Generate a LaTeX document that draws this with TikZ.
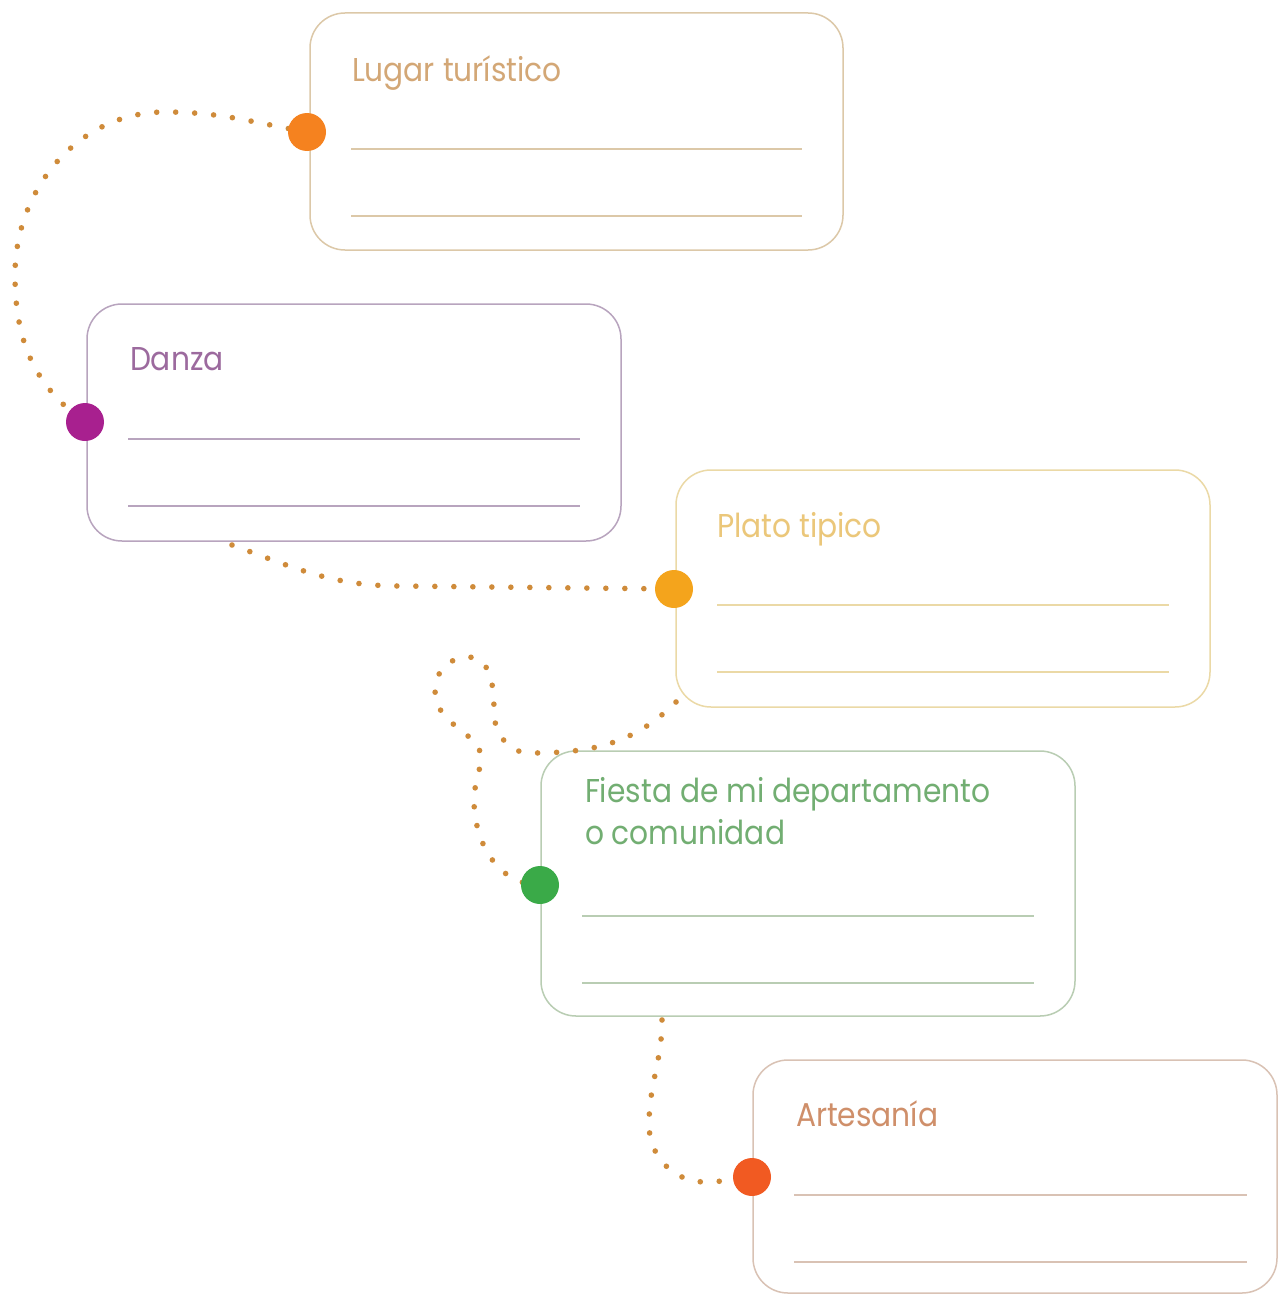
\documentclass[tikz,border=0pt]{standalone}
\usepackage{fontspec}
\setmainfont{Poppins}[FakeStretch=0.9]
\usetikzlibrary{calc}
\definecolor{dotcol}{HTML}{CF8B3A}
\definecolor{bdA}{HTML}{DCC8A8}\definecolor{txA}{HTML}{D3A776}\definecolor{dtA}{HTML}{F5821F}
\definecolor{bdB}{HTML}{B8A4BE}\definecolor{txB}{HTML}{9C6A9E}\definecolor{dtB}{HTML}{A8208F}
\definecolor{bdC}{HTML}{EBD9A6}\definecolor{txC}{HTML}{EBC77A}\definecolor{dtC}{HTML}{F4A41C}
\definecolor{bdD}{HTML}{B9CDB3}\definecolor{txD}{HTML}{72AE72}\definecolor{dtD}{HTML}{3AAA48}
\definecolor{bdE}{HTML}{D9C2B4}\definecolor{txE}{HTML}{CF8F6A}\definecolor{dtE}{HTML}{F15A22}
\tikzset{
  card/.style={draw=#1, line width=0.75pt, rounded corners=17.5pt, inner sep=0pt, outer sep=0pt, fill=white},
  wline/.style={draw=#1, line width=0.8pt},
  ttl/.style={text=#1, font=\fontsize{16.5pt}{21pt}\selectfont, inner sep=0pt, outer sep=0pt},
  pin/.style={circle, fill=#1, minimum size=19pt, inner sep=0pt, outer sep=0pt},
  dotpath/.style={draw=dotcol, line width=2.8pt, line cap=round, dash pattern=on 0pt off 9.5pt}
}
\begin{document}
\begin{tikzpicture}[x=0.5pt,y=0.5pt]
\useasboundingbox (0,0) rectangle (1280,-1295);
\fill[white] (0,0) rectangle (1280,-1295);
% cards
\node[card=bdA, minimum width=266.5pt, minimum height=118.5pt] (b1) at (576.5,-131.5) {};
\node[card=bdB, minimum width=267pt, minimum height=118.5pt] (b2) at (354,-422.5) {};
\node[card=bdC, minimum width=267pt, minimum height=118.5pt] (b3) at (943,-588.5) {};
\node[card=bdD, minimum width=267pt, minimum height=132.5pt] (b4) at (808,-883.5) {};
\node[card=bdE, minimum width=262pt, minimum height=116.5pt] (b5) at (1015,-1176.5) {};
% writing lines
\foreach \b/\c/\o/\r in {b1/bdA/136/41, b2/bdB/135/41, b3/bdC/135/41, b4/bdD/165/41, b5/bdE/135/30}{
  \draw[wline=\c] ($(\b.north west)+(41,-\o)$) -- ($(\b.north east)+(-\r,-\o)$);
  \draw[wline=\c] ($(\b.north west)+(41,-\o-67)$) -- ($(\b.north east)+(-\r,-\o-67)$);
}
% titles
\node[ttl=txA, anchor=base west] (t1) at (352,-82) {Lugar turístico};
\node[ttl=txB, anchor=base west] (t2) at (130,-370) {Danza};
\node[ttl=txC, anchor=base west] (t3) at (717,-537) {Plato tipico};
\node[ttl=txD, anchor=base west] (t4a) at (585,-802) {Fiesta de mi departamento};
\node[ttl=txD, anchor=base west] (t4b) at (585,-844) {o comunidad};
\node[ttl=txE, anchor=base west] (t5) at (796,-1126) {Artesanía};
% path coordinates
\coordinate (p1a) at (165,-112);
\coordinate (p1b) at (15,-275);
\coordinate (p2s) at (232,-545);
\coordinate (p2m) at (400,-586);
\coordinate (p3s) at (676,-702);
\coordinate (p3a) at (530,-753);
\coordinate (p3b) at (494,-712);
\coordinate (p3c) at (468,-657);
\coordinate (p3d) at (435,-690);
\coordinate (p3e) at (478,-745);
\coordinate (p3f) at (474,-800);
\coordinate (p4s) at (662,-1020);
\coordinate (p4a) at (649,-1125);
\coordinate (p4b) at (705,-1182);
% pin centres
\coordinate (d1) at (307,-132);
\coordinate (d2) at (85,-422);
\coordinate (d3) at (674,-589);
\coordinate (d4) at (540,-885);
\coordinate (d5) at (752,-1177);
% dotted connectors
\draw[dotpath] (d1) to[out=170,in=0] (p1a) to[out=180,in=90] (p1b) to[out=-90,in=145] (d2);
\draw[dotpath] (p2s) to[out=-20,in=180] (p2m) -- (d3);
\draw[dotpath] (p3s) to[out=225,in=0] (p3a) to[out=180,in=-90] (p3b) to[out=90,in=0] (p3c) to[out=180,in=90] (p3d) to[out=-90,in=135] (p3e) to[out=-70,in=90] (p3f) to[out=-90,in=180] (d4);
\draw[dotpath] (p4s) to[out=-90,in=90] (p4a) to[out=-90,in=180] (p4b) to[out=0,in=185] (d5);
% pin dots
\node[pin=dtA] (n1) at (d1) {};
\node[pin=dtB] (n2) at (d2) {};
\node[pin=dtC] (n3) at (d3) {};
\node[pin=dtD] (n4) at (d4) {};
\node[pin=dtE] (n5) at (d5) {};
\end{tikzpicture}
\end{document}
